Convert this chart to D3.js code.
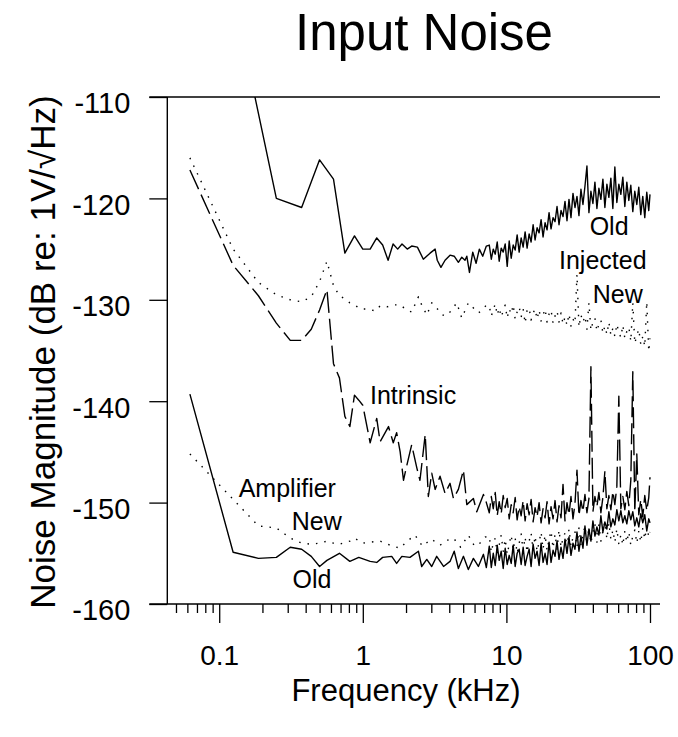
<!DOCTYPE html>
<html>
<head>
<meta charset="utf-8">
<script src="https://cdn.jsdelivr.net/npm/d3@7"></script>
<style>
  body { margin: 0; background: #fff; }
  svg { font-family: "Liberation Sans", Arial, sans-serif; }
</style>
</head>
<body>
<svg id="chart" width="678" height="737"></svg>
<script>
// frequency grid (kHz) used for the dense high frequency part of every trace
const gridKHz = [
  7.6, 7.85, 8.1, 8.36, 8.63, 8.91, 9.2, 9.5, 9.81, 10.13,
  10.46, 10.8, 11.15, 11.51, 11.88, 12.27, 12.67, 13.08, 13.5, 13.94,
  14.4, 14.86, 15.35, 15.84, 16.36, 16.89, 17.44, 18.0, 18.59, 19.19,
  19.82, 20.46, 21.13, 21.81, 22.52, 23.25, 24.01, 24.79, 25.59, 26.42,
  27.28, 28.17, 29.09, 30.03, 31.01, 32.01, 33.05, 34.13, 35.24, 36.38,
  37.56, 38.78, 40.04, 41.35, 42.69, 44.08, 45.51, 46.99, 48.51, 50.09,
  51.72, 53.4, 55.13, 56.92, 58.77, 60.68, 62.66, 64.69, 66.8, 68.97,
  71.21, 73.52, 75.91, 78.38, 80.92, 83.55, 86.27, 89.07, 91.97, 94.96,
  98.04, 100
];

// Injected, old (solid)
const injOldKHz = [0.125, 0.25, 0.375, 0.5, 0.625, 0.75, 0.875, 1.0, 1.125, 1.25,
  1.375, 1.5, 1.625, 1.75, 1.875, 2.04, 2.19, 2.4, 2.64, 2.94,
  3.19, 3.3, 3.5, 3.74, 4.05, 4.33, 4.63, 4.89, 5.15, 5.3,
  5.53, 5.83, 6.15, 6.48, 6.84, 7.25];
const injOldDb = [-99.8, -120.0, -120.9, -116.2, -118.1, -125.4, -123.7, -125.0, -125.0, -123.9,
  -124.6, -126.1, -124.5, -125.0, -124.5, -125.0, -124.7, -124.8, -126.0, -125.4,
  -125.0, -126.1, -126.8, -126.1, -125.6, -125.7, -126.3, -125.8, -126.1, -125.7,
  -127.3, -125.3, -126.4, -125.0, -125.7, -124.7];
const injOldGridDb = [
  -124.6, -126.0, -125.0, -125.5, -124.3, -126.2, -124.9, -125.3, -124.5, -126.7,
  -124.2, -125.9, -124.6, -125.1, -123.6, -125.3, -123.9, -124.8, -123.3, -124.9,
  -123.5, -124.3, -122.6, -124.1, -122.9, -123.4, -122.1, -123.8, -122.4, -123.1,
  -121.4, -123.0, -121.9, -122.3, -120.8, -122.6, -121.2, -121.8, -120.3, -122.2,
  -120.1, -121.9, -119.5, -120.9, -119.8, -121.7, -119.1, -120.6, -118.8, -116.8,
  -121.4, -119.3, -120.5, -118.4, -121.0, -119.0, -120.1, -118.1, -120.9, -118.6,
  -119.9, -118.0, -121.0, -116.9, -120.4, -118.6, -119.6, -117.9, -120.8, -118.4,
  -120.2, -118.7, -121.3, -119.3, -120.6, -118.9, -121.6, -119.8, -121.9, -119.4,
  -121.2, -119.6
];

// Injected, new (dotted)
const injNewKHz = [0.0625, 0.125, 0.1875, 0.25, 0.3125, 0.375, 0.4375, 0.5, 0.5625, 0.625,
  0.6875, 0.75, 0.8125, 0.875, 0.96, 1.09, 1.22, 1.32, 1.47, 1.63,
  1.82, 2.02, 2.19, 2.44, 2.57, 2.79, 3.02, 3.27, 3.5, 3.74,
  4.05, 4.51, 4.89, 5.43, 5.89, 6.38, 6.92, 7.25];
const injNewDb = [-116.0, -125.0, -128.3, -129.5, -130.0, -130.2, -129.7, -128.2, -126.2, -128.6,
  -129.6, -129.9, -130.3, -130.5, -130.9, -130.9, -131.1, -130.6, -130.7, -130.5,
  -130.5, -131.0, -131.2, -129.7, -130.5, -131.5, -130.3, -130.8, -131.4, -131.6,
  -131.2, -130.3, -131.8, -130.3, -130.8, -131.3, -130.9, -130.5];
const injNewGridDb = [
  -130.6, -131.6, -131.0, -130.4, -131.5, -130.8, -131.7, -131.1, -130.5, -131.8,
  -130.9, -131.4, -130.5, -131.9, -131.2, -130.7, -131.7, -130.9, -132.3, -131.0,
  -130.8, -132.0, -131.3, -130.9, -131.9, -131.0, -132.1, -131.5, -130.9, -132.2,
  -131.4, -131.0, -132.3, -131.6, -131.1, -132.2, -131.3, -132.4, -131.7, -132.5,
  -131.4, -132.6, -131.9, -132.3, -127.5, -132.7, -131.5, -132.2, -131.6, -132.9,
  -130.3, -133.0, -132.2, -131.8, -133.1, -132.4, -132.0, -133.3, -132.6, -133.4,
  -132.2, -133.5, -132.8, -133.6, -132.4, -133.2, -133.7, -132.5, -133.8, -133.1,
  -132.7, -134.1, -130.3, -134.3, -133.5, -132.9, -134.4, -133.6, -134.6, -130.2,
  -135.1, -133.8
];

// Intrinsic (dashed)
const intrKHz = [0.0625, 0.125, 0.1875, 0.25, 0.3125, 0.375, 0.4375, 0.5, 0.5625, 0.625,
  0.6875, 0.75, 0.8125, 0.875, 0.9375, 1.0, 1.125, 1.25, 1.32, 1.51,
  1.63, 1.72, 1.82, 1.92, 2.02, 2.19, 2.38, 2.5, 2.72, 2.86,
  3.02, 3.19, 3.45, 3.74, 4.05, 4.28, 4.63, 5.02, 5.3, 5.89,
  6.22, 6.92, 7.25];
const intrDb = [-117.2, -126.6, -129.6, -132.3, -134.0, -134.0, -132.9, -131.0, -129.0, -136.3,
  -137.7, -141.5, -142.5, -139.4, -139.9, -140.4, -144.1, -141.7, -144.0, -142.5,
  -144.1, -143.1, -145.0, -147.8, -146.4, -144.3, -146.6, -147.8, -143.3, -149.4,
  -147.1, -148.7, -147.4, -149.1, -148.1, -149.6, -148.7, -146.8, -150.2, -149.6,
  -150.9, -149.2, -150.0];
const intrGridDb = [
  -151.0, -149.4, -150.6, -149.0, -151.3, -149.9, -151.1, -149.3, -150.5, -149.6,
  -151.6, -150.2, -151.0, -149.5, -151.7, -150.4, -151.3, -149.8, -151.8, -150.1,
  -151.2, -149.7, -151.9, -150.5, -151.4, -150.0, -152.0, -150.6, -151.5, -149.9,
  -152.1, -150.4, -151.6, -149.8, -151.9, -150.3, -151.5, -148.2, -151.8, -150.0,
  -151.2, -149.4, -151.6, -150.1, -146.8, -151.3, -149.8, -150.9, -149.2, -151.0,
  -149.6, -136.6, -150.9, -149.4, -150.4, -149.0, -151.0, -149.5, -146.9, -150.6,
  -149.3, -150.7, -148.9, -150.2, -148.4, -139.5, -150.6, -149.4, -150.7, -148.9,
  -150.3, -147.8, -137.1, -150.9, -145.2, -151.2, -149.7, -151.4, -149.3, -150.8,
  -149.5, -147.5
];

// Amplifier, new (dotted)
const ampNewKHz = [0.0625, 0.1875, 0.25, 0.3125, 0.375, 0.4375, 0.5, 0.5625, 0.625, 0.6875,
  0.8125, 0.875, 1.0, 1.125, 1.32, 1.55, 1.82, 2.0, 2.31, 2.6,
  3.0, 3.45, 3.9, 4.28, 4.8, 5.43, 6.0, 6.55, 7.1];
const ampNewDb = [-145.2, -152.3, -152.5, -153.5, -154.0, -154.1, -154.0, -153.8, -154.0, -154.1,
  -153.8, -153.5, -154.0, -153.9, -153.8, -154.2, -154.5, -153.9, -153.2, -154.3,
  -153.6, -154.2, -153.7, -153.5, -154.4, -153.2, -154.3, -154.0, -153.4];
const ampNewGridDb = [
  -153.3, -154.9, -154.0, -153.5, -155.0, -154.2, -153.2, -154.8, -153.6, -155.1,
  -154.1, -153.2, -154.7, -153.5, -155.0, -154.0, -153.1, -154.8, -153.4, -154.9,
  -153.8, -153.0, -154.7, -153.3, -154.8, -153.9, -152.9, -154.6, -153.2, -154.7,
  -153.6, -152.8, -154.5, -153.1, -154.6, -152.7, -154.4, -153.5, -153.0, -154.5,
  -152.6, -154.3, -153.4, -152.9, -154.4, -152.5, -154.2, -153.2, -152.3, -154.1,
  -152.4, -154.0, -152.9, -152.1, -153.9, -152.2, -153.8, -152.8, -151.9, -153.6,
  -152.0, -153.6, -152.7, -153.9, -152.6, -154.1, -153.2, -154.2, -152.8, -153.9,
  -152.9, -154.2, -153.3, -152.7, -154.0, -152.8, -153.9, -152.5, -153.6, -152.3,
  -153.4, -152.9
];

// Amplifier, old (solid)
const ampOldKHz = [0.0625, 0.125, 0.1875, 0.25, 0.3125, 0.375, 0.4375, 0.5, 0.5625, 0.6875,
  0.8125, 0.9375, 1.125, 1.25, 1.375, 1.59, 1.72, 1.87, 2.13, 2.44,
  2.57, 2.79, 3.02, 3.27, 3.65, 4.05, 4.33, 4.63, 5.02, 5.43,
  5.89, 6.38, 6.92, 7.25];
const ampOldDb = [-139.3, -154.9, -155.5, -155.4, -154.4, -154.6, -155.3, -156.3, -155.7, -155.0,
  -155.8, -155.4, -155.8, -155.9, -155.4, -155.3, -156.0, -155.3, -155.4, -154.8,
  -156.3, -155.6, -156.3, -155.3, -156.3, -155.8, -154.8, -156.5, -155.3, -156.6,
  -155.5, -156.3, -155.1, -156.4];
const ampOldGridDb = [
  -154.3, -156.4, -155.0, -156.2, -154.2, -155.7, -154.8, -156.5, -154.5, -156.1,
  -155.2, -156.0, -154.2, -156.3, -155.0, -154.6, -156.1, -154.4, -156.2, -155.3,
  -154.6, -156.3, -154.1, -155.5, -154.8, -156.2, -154.0, -155.9, -155.0, -156.1,
  -153.9, -155.9, -154.7, -155.3, -153.8, -155.6, -154.4, -155.5, -153.6, -155.0,
  -153.4, -155.2, -154.0, -154.6, -152.9, -154.8, -153.3, -154.5, -152.3, -154.2,
  -152.6, -153.8, -151.8, -153.3, -152.4, -153.2, -151.3, -152.9, -151.9, -152.6,
  -150.9, -152.4, -151.6, -152.2, -150.7, -151.8, -150.8, -152.0, -151.3, -152.1,
  -150.8, -151.7, -150.9, -152.3, -151.5, -152.4, -151.1, -152.0, -151.2, -152.8,
  -151.6, -152.0
];

// axes
const majorTicks = [0.1, 1, 10, 100];
const minorTicks = [0.05, 0.06, 0.07, 0.08, 0.09, 0.2, 0.3, 0.4, 0.5, 0.6, 0.7, 0.8, 0.9,
  2, 3, 4, 5, 6, 7, 8, 9, 20, 30, 40, 50, 60, 70, 80, 90];
const yTicks = [-160, -150, -140, -130, -120, -110];

// curve labels, placed in data coordinates
const labelText = ["Old", "Injected", "New", "Intrinsic", "Amplifier", "New", "Old"];
const labelKHz = [51.9, 46.9, 59.7, 2.24, 0.298, 0.478, 0.443];
const labelDb = [-123.6, -127.0, -130.3, -140.3, -149.4, -152.7, -158.4];

const size = {
    left: 167.3,
    right: 660,
    top: 97,
    bottom: 604,
    tick: 18
};

const svg = d3.select("#chart");

const x = d3.scaleLog().domain([0.0435, 117.4]).range([size.left, size.right]);
const y = d3.scaleLinear().domain([-160, -110]).range([size.bottom, size.top]);

svg.append("defs").append("clipPath")
    .attr("id", "plotClip")
    .append("rect")
    .attr("x", size.left)
    .attr("y", size.top)
    .attr("width", size.right - size.left)
    .attr("height", size.bottom - size.top);

const traces = [
    { kHz: injOldKHz, db: injOldDb, grid: injOldGridDb, dash: null },
    { kHz: injNewKHz, db: injNewDb, grid: injNewGridDb, dash: "1.5,7" },
    { kHz: intrKHz, db: intrDb, grid: intrGridDb, dash: "21,6" },
    { kHz: ampNewKHz, db: ampNewDb, grid: ampNewGridDb, dash: "1.5,7" },
    { kHz: ampOldKHz, db: ampOldDb, grid: ampOldGridDb, dash: null }
];

const line = d3.line()
    .x(d => x(d[0]))
    .y(d => y(d[1]));

const plotG = svg.append("g").attr("clip-path", "url(#plotClip)");

traces.forEach(t => {
    const pts = t.kHz.map((f, i) => [f, t.db[i]])
        .concat(gridKHz.map((f, i) => [f, t.grid[i]]));
    plotG.append("path")
        .datum(pts)
        .attr("d", line)
        .attr("fill", "none")
        .attr("stroke", "#000")
        .attr("stroke-width", 1.4)
        .attr("stroke-linejoin", "round")
        .attr("stroke-dasharray", t.dash);
});

// frame: left axis line plus top and bottom lines running out to the tick length
const frameG = svg.append("g").attr("stroke", "#000").attr("stroke-width", 1.4);
frameG.append("line")
    .attr("x1", size.left).attr("x2", size.left)
    .attr("y1", y(-110)).attr("y2", y(-160));
[-110, -160].forEach(v => {
    frameG.append("line")
        .attr("x1", size.left - size.tick).attr("x2", size.right)
        .attr("y1", y(v)).attr("y2", y(v));
});

// x axis: minor then major ticks
svg.append("g")
    .attr("transform", "translate(0," + size.bottom + ")")
    .call(d3.axisBottom(x).tickValues(minorTicks).tickSize(9).tickFormat(""))
    .call(g => g.select(".domain").remove())
    .call(g => g.selectAll("line").attr("stroke-width", 1.3));

svg.append("g")
    .attr("transform", "translate(0," + size.bottom + ")")
    .call(d3.axisBottom(x).tickValues(majorTicks).tickSize(19).tickPadding(22)
        .tickFormat(d => d3.format("~g")(d)))
    .call(g => g.select(".domain").remove())
    .call(g => g.selectAll("line").attr("stroke-width", 1.3))
    .call(g => g.selectAll("text")
        .attr("font-family", "Liberation Sans, Arial, sans-serif")
        .style("font-size", "28px")
        .attr("fill", "#000"));

// y axis
svg.append("g")
    .attr("transform", "translate(" + size.left + ",0)")
    .call(d3.axisLeft(y).tickValues(yTicks).tickSize(size.tick).tickPadding(19)
        .tickFormat(d => String(d)))
    .call(g => g.select(".domain").remove())
    .call(g => g.selectAll("line").attr("stroke-width", 1.3))
    .call(g => g.selectAll("text")
        .attr("font-family", "Liberation Sans, Arial, sans-serif")
        .attr("dy", "0.55em")
        .style("font-size", "29px")
        .attr("fill", "#000"));

// curve labels
labelText.forEach((s, i) => {
    svg.append("text")
        .attr("x", x(labelKHz[i]))
        .attr("y", y(labelDb[i]))
        .style("text-anchor", "middle")
        .style("font-size", "25px")
        .text(s);
});

// titles
svg.append("text")
    .attr("x", 424)
    .attr("y", 50)
    .style("text-anchor", "middle")
    .style("font-size", "51px")
    .text("Input Noise");

svg.append("text")
    .attr("x", 406)
    .attr("y", 701)
    .style("text-anchor", "middle")
    .style("font-size", "31px")
    .text("Frequency (kHz)");

svg.append("text")
    .attr("transform", "translate(55,352) rotate(-90)")
    .style("text-anchor", "middle")
    .style("font-size", "35px")
    .text("Noise Magnitude (dB re: 1V/\u221AHz)");
</script>
</body>
</html>
